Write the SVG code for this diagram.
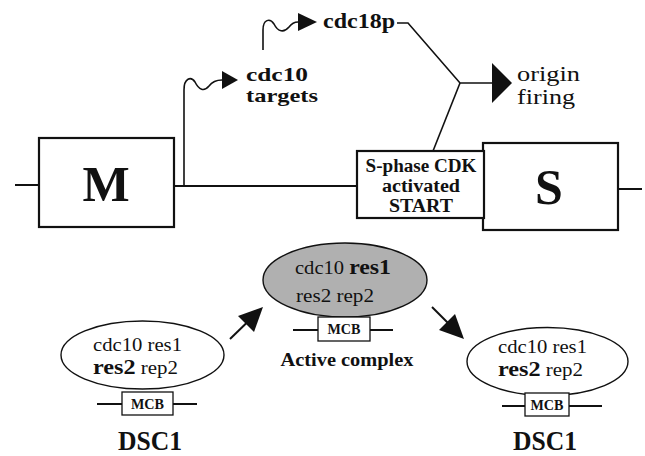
<svg xmlns="http://www.w3.org/2000/svg" width="645" height="456" viewBox="0 0 645 456">
<style>
text{font-family:"Liberation Serif","Times New Roman",serif;fill:#111}
.b{font-weight:bold}
.box{fill:#fff;stroke:#111;stroke-width:2.2}
.ln{fill:none;stroke:#111;stroke-width:2}
.thin{fill:none;stroke:#111;stroke-width:1.6}
.ell{fill:#fff;stroke:#111;stroke-width:1.4}
.act{fill:#b0b0b0;stroke:#111;stroke-width:1.4}
.mcb{fill:#fff;stroke:#111;stroke-width:1.3}
.head{fill:#111;stroke:none}
</style>
<rect width="645" height="456" fill="#fff"/>
<g id="connectors">
  <line class="ln" x1="15" y1="185" x2="39" y2="185"/>
  <line class="ln" x1="174" y1="186" x2="357" y2="186"/>
  <line class="ln" x1="618" y1="189" x2="642" y2="189"/>
  <path class="thin" d="M184,186 V90 C184,78 191,76 195,82 C199,90 204,92 209,86 C212,82 216,80 222,80"/>
  <polygon class="head" points="222,71 222,89 238,80"/>
  <path class="thin" d="M263,50 V30 C263,19 270,18 274,24 C278,32 284,33 289,27 C292,23 294,22 298,22"/>
  <polygon class="head" points="298,13 298,31 317,22"/>
  <polyline class="thin" points="397,23 408,23 460,83 492,83"/>
  <line class="thin" x1="460" y1="83" x2="433" y2="151"/>
  <polygon class="head" points="492,63 492,103 512,83"/>
  <line class="ln" x1="230" y1="339" x2="247" y2="322.5" stroke-width="3"/>
  <polygon class="head" points="263,307 254,332 238,316"/>
  <line class="ln" x1="432" y1="307" x2="448" y2="323" stroke-width="3"/>
  <polygon class="head" points="464,339 439,330 455,314"/>
</g>
<g id="M">
  <rect class="box" x="39" y="138" width="135" height="89"/>
  <text class="b" x="106" y="201" font-size="50" text-anchor="middle">M</text>
</g>
<g id="S">
  <rect class="box" x="483" y="143" width="135" height="87"/>
  <text class="b" x="549" y="204" font-size="50" text-anchor="middle">S</text>
</g>
<g id="sphase">
  <rect class="box" x="357" y="151" width="127" height="67"/>
  <text class="b" x="421" y="172" font-size="18" text-anchor="middle" textLength="111" lengthAdjust="spacingAndGlyphs">S-phase CDK</text>
  <text class="b" x="421" y="192" font-size="18" text-anchor="middle" textLength="78" lengthAdjust="spacingAndGlyphs">activated</text>
  <text class="b" x="421" y="212" font-size="18" text-anchor="middle" textLength="64" lengthAdjust="spacingAndGlyphs">START</text>
</g>
<g id="cdc10targets">
  <text class="b" x="246" y="81" font-size="19" textLength="62" lengthAdjust="spacingAndGlyphs">cdc10</text>
  <text class="b" x="246" y="102" font-size="19" textLength="72" lengthAdjust="spacingAndGlyphs">targets</text>
</g>
<g id="cdc18p">
  <text class="b" x="323" y="28" font-size="21" textLength="72" lengthAdjust="spacingAndGlyphs">cdc18p</text>
</g>
<g id="origin">
  <text x="517" y="81" font-size="22" textLength="63" lengthAdjust="spacingAndGlyphs">origin</text>
  <text x="517" y="104" font-size="22" textLength="58" lengthAdjust="spacingAndGlyphs">firing</text>
</g>
<g id="dsc1-left">
  <line class="ln" x1="97" y1="404" x2="197" y2="404"/>
  <ellipse class="ell" cx="142.5" cy="355" rx="81.5" ry="34"/>
  <rect class="mcb" x="122" y="392" width="51" height="23"/>
  <text class="b" x="147.5" y="409" font-size="14" text-anchor="middle" textLength="33" lengthAdjust="spacingAndGlyphs">MCB</text>
  <text x="93" y="351" font-size="19" textLength="89" lengthAdjust="spacingAndGlyphs">cdc10 res1</text>
  <text x="93" y="374" font-size="19" textLength="85" lengthAdjust="spacingAndGlyphs"><tspan class="b" font-size="22">res2</tspan> rep2</text>
  <text class="b" x="150" y="450" font-size="27" text-anchor="middle" textLength="64" lengthAdjust="spacingAndGlyphs">DSC1</text>
</g>
<g id="active">
  <line class="ln" x1="293" y1="330" x2="393" y2="330"/>
  <ellipse class="act" cx="345" cy="280" rx="82" ry="37"/>
  <rect class="mcb" x="318" y="317" width="52" height="24"/>
  <text class="b" x="344" y="334" font-size="14" text-anchor="middle" textLength="33" lengthAdjust="spacingAndGlyphs">MCB</text>
  <text x="295" y="274" font-size="19" textLength="96" lengthAdjust="spacingAndGlyphs">cdc10 <tspan class="b" font-size="22">res1</tspan></text>
  <text x="296" y="302" font-size="19" textLength="78" lengthAdjust="spacingAndGlyphs">res2 rep2</text>
  <text class="b" x="347" y="366" font-size="18" text-anchor="middle" textLength="133" lengthAdjust="spacingAndGlyphs">Active complex</text>
</g>
<g id="dsc1-right">
  <line class="ln" x1="502" y1="406" x2="602" y2="406"/>
  <ellipse class="ell" cx="547.5" cy="361.5" rx="80.5" ry="34"/>
  <rect class="mcb" x="525" y="393" width="44" height="23"/>
  <text class="b" x="547" y="410" font-size="14" text-anchor="middle" textLength="33" lengthAdjust="spacingAndGlyphs">MCB</text>
  <text x="498" y="353" font-size="19" textLength="89" lengthAdjust="spacingAndGlyphs">cdc10 res1</text>
  <text x="498" y="376" font-size="19" textLength="85" lengthAdjust="spacingAndGlyphs"><tspan class="b" font-size="22">res2</tspan> rep2</text>
  <text class="b" x="545" y="450" font-size="27" text-anchor="middle" textLength="64" lengthAdjust="spacingAndGlyphs">DSC1</text>
</g>
</svg>
